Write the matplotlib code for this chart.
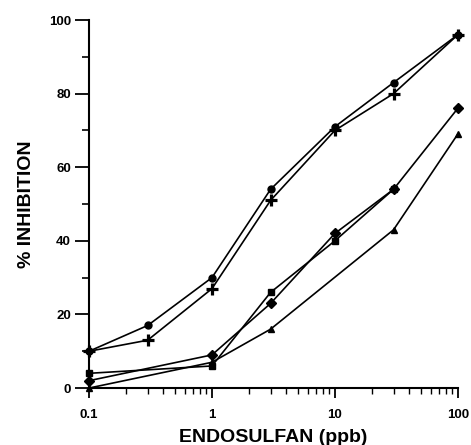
import matplotlib
matplotlib.use("Agg")
import matplotlib.pyplot as plt
from matplotlib.ticker import LogLocator, MultipleLocator, FixedLocator, NullFormatter

plt.rcParams['font.family'] = ['Liberation Sans', 'DejaVu Sans']

conc_full = [0.1, 0.3, 1, 3, 10, 30, 100]
circle_vals = [10, 17, 30, 54, 71, 83, 96]
plus_vals = [10, 13, 27, 51, 70, 80, 96]

conc_diamond = [0.1, 1, 3, 10, 30, 100]
diamond_vals = [2, 9, 23, 42, 54, 76]

conc_square = [0.1, 1, 3, 10, 30]
square_vals = [4, 6, 26, 40, 54]

conc_triangle = [0.1, 1, 3, 30, 100]
triangle_vals = [0, 7, 16, 43, 69]

x_ticks = [0.1, 1, 10, 100]
x_tick_labels = ['0.1', '1', '10', '100']
y_ticks = [0, 20, 40, 60, 80, 100]

fig = plt.figure(figsize=(4.71, 4.45), dpi=100)
ax = fig.add_axes([0.189, 0.128, 0.783, 0.827])

lw = 1.2
kw = dict(color='black', lw=lw, clip_on=False, zorder=3)
ax.plot(conc_full, circle_vals, marker='o', ms=5, **kw)
ax.plot(conc_full, plus_vals, marker='+', ms=8, mew=2.3, **kw)
ax.plot(conc_diamond, diamond_vals, marker='D', ms=5, **kw)
ax.plot(conc_square, square_vals, marker='s', ms=5, **kw)
ax.plot(conc_triangle, triangle_vals, marker='^', ms=5, **kw)

ax.set_xscale('log')
ax.set_xlim(0.1, 100)
ax.set_ylim(0, 100)

ax.xaxis.set_major_locator(FixedLocator(x_ticks))
ax.set_xticklabels(x_tick_labels)
ax.xaxis.set_minor_locator(LogLocator(base=10, subs=range(2, 10)))
ax.xaxis.set_minor_formatter(NullFormatter())
ax.yaxis.set_major_locator(FixedLocator(y_ticks))
ax.yaxis.set_minor_locator(MultipleLocator(10))

for s in ['top', 'right']:
    ax.spines[s].set_visible(False)
for s in ['left', 'bottom']:
    ax.spines[s].set_linewidth(1.5)

ax.tick_params(axis='y', which='major', direction='out', length=10, width=1.3, labelsize=9.5, pad=3)
ax.tick_params(axis='y', which='minor', direction='out', length=5, width=1.2)
ax.tick_params(axis='x', which='major', direction='out', length=7, width=1.3, labelsize=9.5, pad=8)
ax.tick_params(axis='x', which='minor', direction='out', length=4, width=1.0)
for lab in ax.get_xticklabels() + ax.get_yticklabels():
    lab.set_fontweight('bold')

ax.set_xlabel('ENDOSULFAN (ppb)', fontsize=14, fontweight='bold', labelpad=6)
ax.set_ylabel('% INHIBITION', fontsize=14, fontweight='bold', labelpad=10)

fig.savefig('out.png', dpi=100)
